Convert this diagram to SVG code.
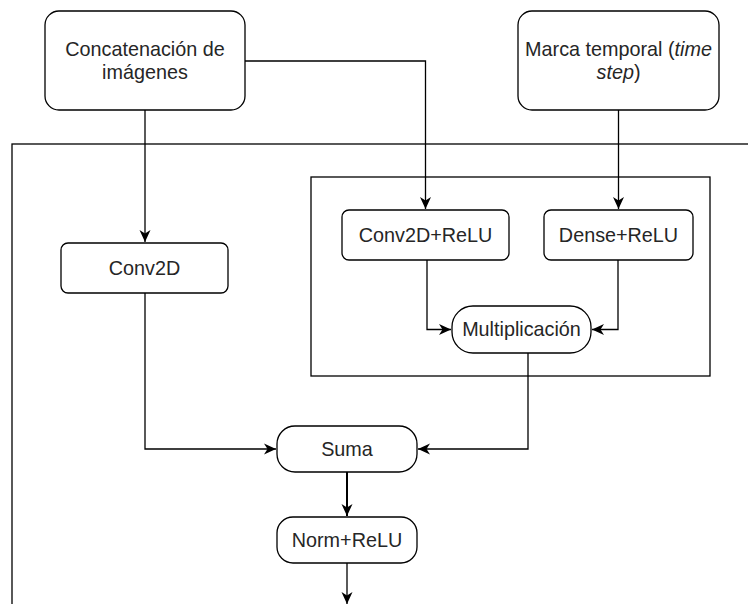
<svg xmlns="http://www.w3.org/2000/svg" width="748" height="604" viewBox="0 0 748 604">
  <style>
    .box { fill: #ffffff; stroke: #000000; stroke-width: 1.3; }
    .frame { fill: none; stroke: #000000; stroke-width: 1.3; }
    .lbl { font-family: "Liberation Sans", Arial, sans-serif; font-size: 19.8px; fill: #262626; text-anchor: middle; }
    .edge { fill: none; stroke: #000000; stroke-width: 1.3; }
    .edge.bold { stroke-width: 2; }
  </style>
  <defs>
    <marker id="arrow" viewBox="0 0 13 13" refX="12" refY="6.5" markerWidth="13" markerHeight="13" markerUnits="userSpaceOnUse" orient="auto">
      <path d="M0,1 L12,6.5 L0,12 L3.5,6.5 Z" fill="#000000"/>
    </marker>
  </defs>
  <rect width="748" height="604" fill="#ffffff"/>

  <!-- containers -->
  <g id="outer-block">
    <rect class="frame" x="12" y="144" width="800" height="600"/>
  </g>
  <g id="time-block">
    <rect class="frame" x="311" y="177" width="399" height="199"/>
  </g>

  <!-- connectors -->
  <g id="connectors">
    <path class="edge" d="M145,110 V242" marker-end="url(#arrow)"/>
    <path class="edge" d="M245,61 H425.5 V209" marker-end="url(#arrow)"/>
    <path class="edge" d="M618.5,110 V209" marker-end="url(#arrow)"/>
    <path class="edge" d="M427,260 V329.5 H451" marker-end="url(#arrow)"/>
    <path class="edge" d="M618,260 V329.5 H592" marker-end="url(#arrow)"/>
    <path class="edge" d="M145,293 V449 H276" marker-end="url(#arrow)"/>
    <path class="edge" d="M528,353 V449 H418" marker-end="url(#arrow)"/>
    <path class="edge bold" d="M347,472 V516" marker-end="url(#arrow)"/>
    <path class="edge" d="M347,563 V604" marker-end="url(#arrow)"/>
  </g>

  <!-- nodes -->
  <g id="concat">
    <rect class="box" x="45" y="11" width="200" height="99" rx="14"/>
    <text class="lbl" x="145" y="56">Concatenación de</text>
    <text class="lbl" x="145" y="79">imágenes</text>
  </g>
  <g id="timestep">
    <rect class="box" x="518" y="11" width="201" height="99" rx="14"/>
    <text class="lbl" x="618.5" y="56">Marca temporal (<tspan font-style="italic">time</tspan></text>
    <text class="lbl" x="618.5" y="79"><tspan font-style="italic">step</tspan>)</text>
  </g>
  <g id="conv2d">
    <rect class="box" x="61" y="243" width="167" height="50" rx="7"/>
    <text class="lbl" x="144.5" y="274.5">Conv2D</text>
  </g>
  <g id="conv2d-relu">
    <rect class="box" x="342" y="210" width="167" height="50" rx="7"/>
    <text class="lbl" x="425.5" y="241.5">Conv2D+ReLU</text>
  </g>
  <g id="dense-relu">
    <rect class="box" x="544" y="210" width="149" height="50" rx="7"/>
    <text class="lbl" x="618.5" y="241.5">Dense+ReLU</text>
  </g>
  <g id="multiplicacion">
    <rect class="box" x="452" y="306" width="139" height="47" rx="21"/>
    <text class="lbl" x="521.5" y="336">Multiplicación</text>
  </g>
  <g id="suma">
    <rect class="box" x="277" y="426" width="140" height="46" rx="18"/>
    <text class="lbl" x="347" y="455.5">Suma</text>
  </g>
  <g id="norm-relu">
    <rect class="box" x="277" y="517" width="140" height="46" rx="16"/>
    <text class="lbl" x="347" y="546.5">Norm+ReLU</text>
  </g>
</svg>
